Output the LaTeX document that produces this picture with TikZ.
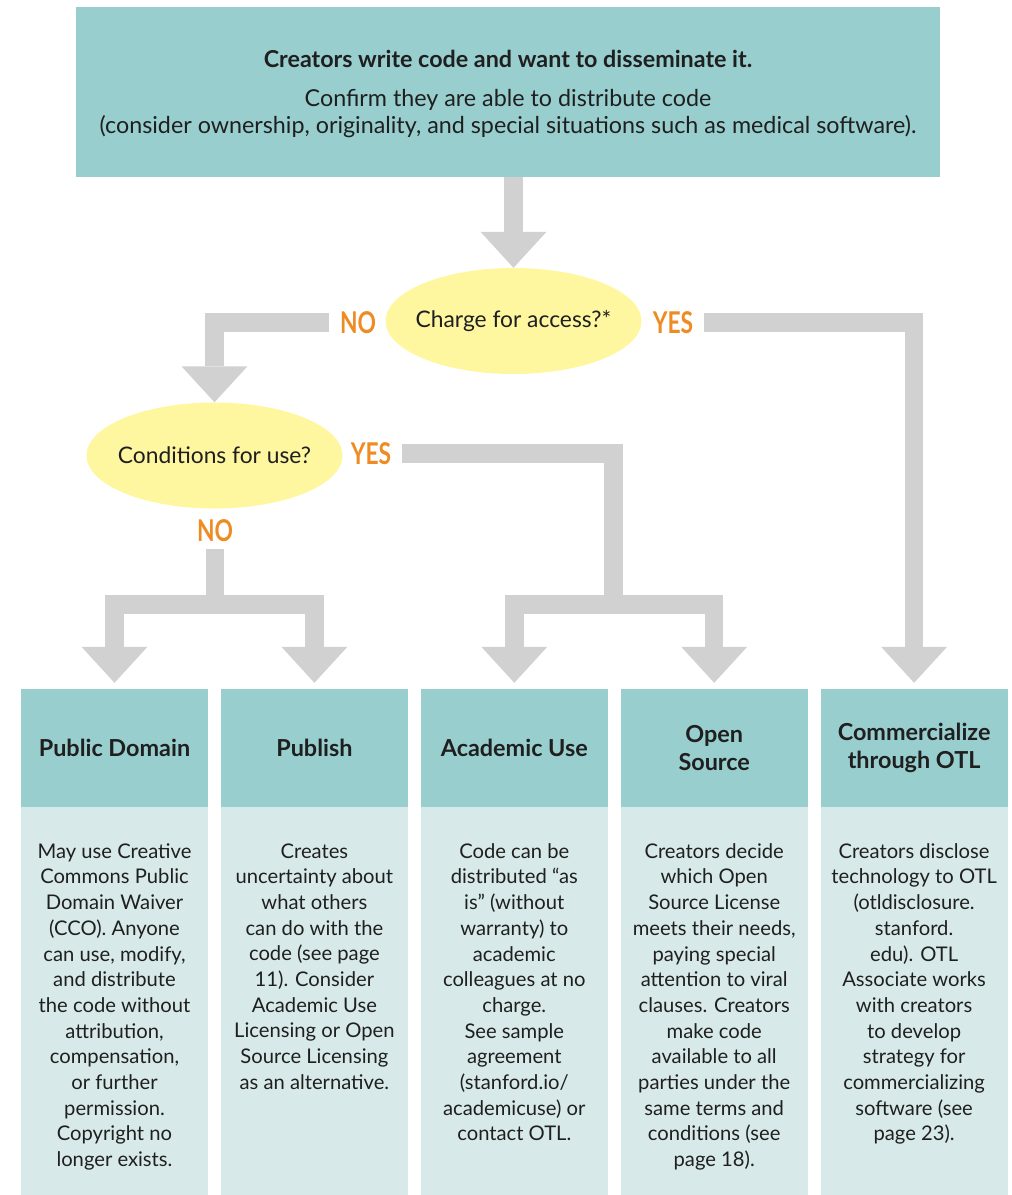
\documentclass[tikz,border=0pt]{standalone}
\usepackage{fontspec}
\setmainfont{Lato}
\newfontfamily\tagfont[FakeStretch=0.76]{Lato}
\usepackage{tikz}
\usetikzlibrary{calc}
\usetikzlibrary{arrows.meta,shapes.geometric,positioning}

\definecolor{hdteal}{HTML}{99CECE}
\definecolor{bdteal}{HTML}{D7EAE9}
\definecolor{qyellow}{HTML}{FFF7A0}
\definecolor{flowgray}{HTML}{D1D1D1}
\definecolor{tagorange}{HTML}{EE8B23}
\definecolor{inkdark}{HTML}{1F1F1F}

\begin{document}
\begin{tikzpicture}[x=1bp,y=-1bp,
		flow/.style={draw=flowgray,line width=18.5bp,line join=miter,
			-{Triangle[width=66bp,length=36bp,line width=0pt]}},
		question/.style={ellipse,fill=qyellow,inner xsep=-12bp,inner ysep=0pt,text=inkdark,
			minimum width=256bp,minimum height=106bp,font=\fontsize{22.8bp}{26bp}\selectfont},
		tag/.style={text=tagorange,inner xsep=10.5bp,inner ysep=7bp,
			font=\tagfont\bfseries\fontsize{30bp}{30bp}\selectfont},
		head/.style={fill=hdteal,minimum width=187bp,minimum height=118bp,inner sep=0pt,
			align=center,text=inkdark,font=\bfseries\fontsize{23.4bp}{28bp}\selectfont},
		body/.style={fill=bdteal,minimum width=187bp,minimum height=388bp,inner sep=0pt},
		note/.style={align=center,inner sep=0pt,text=inkdark,
			font=\fontsize{20.2bp}{25.7bp}\selectfont}]
			\useasboundingbox (0,0) rectangle (1012,1195);

			\node (top) [fill=hdteal,minimum width=864bp,minimum height=170bp] at (508,92) {};
			\node (toptext) [align=center,inner sep=0pt,text=inkdark,font=\fontsize{23.3bp}{27.6bp}\selectfont] at (508,94)
				{\textbf{Creators write code and want to disseminate it.}\\[11.4bp]
				Confirm they are able to distribute code\\
				(consider ownership, originality, and special situations such as medical software).};

			\node (charge) [question] at (513.5,321) {Charge for access?*};
			\node (cond) [question] at (214.5,455.5) {Conditions for use?};
			\node (no1) [tag] at (358,322.5) {NO};
			\node (yes1) [tag] at (673,322.5) {YES};
			\node (yes2) [tag] at (371,453.3) {YES};
			\node (no2) [tag] at (215,531) {NO};

			\node (hd1) [head] at (114.5,748) {Public Domain};
			\node (hd2) [head,right=12.5bp of hd1] {Publish};
			\node (hd3) [head,right=12.5bp of hd2] {Academic Use};
			\node (hd4) [head,right=12.5bp of hd3] {Open\\Source};
			\node (hd5) [head,right=12.5bp of hd4] {Commercialize\\through OTL};

			\node (bd1) [body,below=0pt of hd1] {};
			\node (bd2) [body,below=0pt of hd2] {};
			\node (bd3) [body,below=0pt of hd3] {};
			\node (bd4) [body,below=0pt of hd4] {};
			\node (bd5) [body,below=0pt of hd5] {};

			\node (tx1) [note,below=36bp of hd1] {May use Creative\\Commons Public\\Domain Waiver\\(CCO). Anyone\\can use, modify,\\and distribute\\the code without\\attribution,\\compensation,\\or further\\permission.\\Copyright no\\longer exists.};
			\node (tx2) [note,below=36bp of hd2] {Creates\\uncertainty about\\what others\\can do with the\\code (see page\\11). Consider\\Academic Use\\Licensing or Open\\Source Licensing\\as an alternative.};
			\node (tx3) [note,below=36bp of hd3] {Code can be\\distributed “as\\is” (without\\warranty) to\\academic\\colleagues at no\\charge.\\See sample\\agreement\\(stanford.io/\\academicuse) or\\contact OTL.};
			\node (tx4) [note,below=36bp of hd4] {Creators decide\\which Open\\Source License\\meets their needs,\\paying special\\attention to viral\\clauses. Creators\\make code\\available to all\\parties under the\\same terms and\\conditions (see\\page 18).};
			\node (tx5) [note,below=36bp of hd5] {Creators disclose\\technology to OTL\\(otldisclosure.\\stanford.\\edu). OTL\\Associate works\\with creators\\to develop\\strategy for\\commercializing\\software (see\\page 23).};

			\coordinate (split1) at (215,604.5);
			\coordinate (split2) at (613.5,604.5);

			\draw [flow] (top.south -| charge.north)--(charge.north);
			\draw [flow] (no1.west) -| (cond.north);
			\draw [flow,shorten >=6bp] (yes1.east) -| (hd5.north);
			\draw [flow,shorten >=6bp] (yes2.east) -| (split2) -| (hd3.north);
			\draw [flow,shorten >=6bp] (split2) -| (hd4.north);
			\draw [flow,shorten >=6bp] (no2.south)--(split1) -| (hd1.north);
			\draw [flow,shorten >=6bp] (split1) -| (hd2.north);
		\end{tikzpicture}
\end{document}
